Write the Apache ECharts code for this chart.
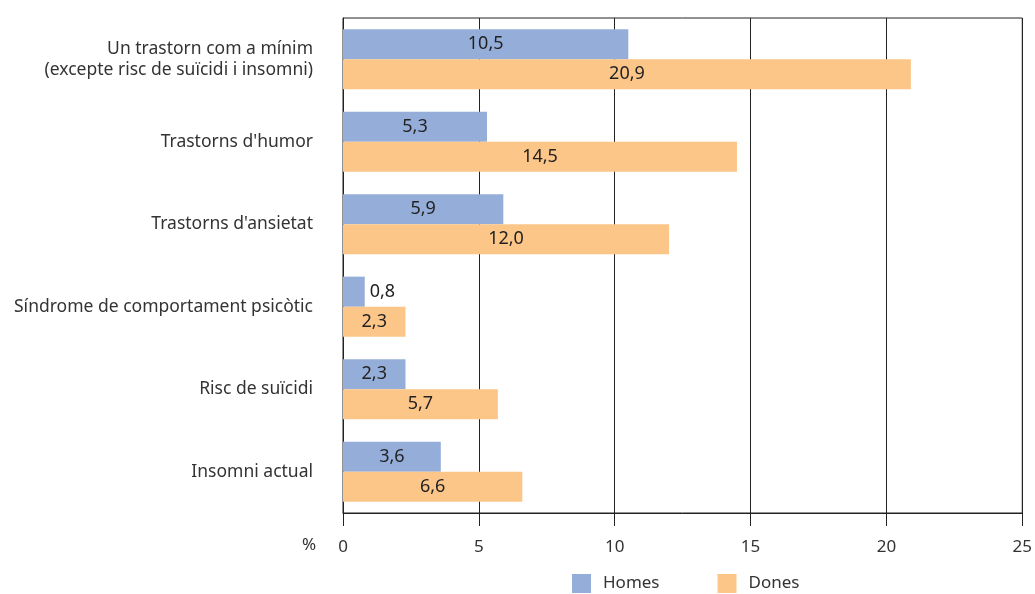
<!DOCTYPE html>
<html><head><meta charset="utf-8">
<script src="https://cdn.jsdelivr.net/npm/echarts@6/dist/echarts.min.js"></script>
<style>html,body{margin:0;padding:0;background:#fff}#c{width:1035px;height:594px}</style>
</head><body><div id="c"></div>
<script>
const categories = ["Un trastorn com a mínim\n(excepte risc de suïcidi i insomni)", "Trastorns d'humor", "Trastorns d'ansietat", "Síndrome de comportament psicòtic", "Risc de suïcidi", "Insomni actual"];
const homes = [10.5, 5.3, 5.9, 0.8, 2.3, 3.6];
const dones = [20.9, 14.5, 12.0, 2.3, 5.7, 6.6];
const seriesNames = ["Homes", "Dones"];
const FONT = "Noto Sans";
const FS = 17;
const chart = echarts.init(document.getElementById('c'));
function fmt(v){ return v.toFixed(1).replace('.', ','); }
function mk(vals){
  return vals.map(v => v < 1.5 ? {value: v, label: {position: 'right', distance: 5}} : v);
}
chart.setOption({
  animation: false,
  textStyle: {fontFamily: FONT},
  grid: {left: 343, right: 12, top: 18, bottom: 81, containLabel: false, show: true, borderColor: '#222', borderWidth: 1},
  legend: {
    top: 574, left: 572, itemWidth: 19, itemHeight: 19, itemGap: 58,
    icon: 'rect', padding: 0,
    textStyle: {fontFamily: FONT, fontSize: FS, color: '#333', padding: [0,0,0,7]},
    data: seriesNames
  },
  xAxis: {
    type: 'value', min: 0, max: 25, interval: 5,
    axisLine: {show: true, lineStyle: {color: '#222'}},
    axisTick: {show: true, length: 13, lineStyle: {color: '#222'}},
    axisLabel: {fontFamily: FONT, fontSize: FS, color: '#333', margin: 26},
    splitLine: {show: true, lineStyle: {color: '#222', width: 1}}
  },
  yAxis: {
    type: 'category', data: categories, inverse: true,
    axisLine: {show: true, lineStyle: {color: '#222'}},
    axisTick: {show: false},
    axisLabel: {fontFamily: FONT, fontSize: 17.5, color: '#333', margin: 30, align: 'right', lineHeight: 21}
  },
  graphic: [{type: 'text', left: 302, top: 537, style: {text: '%', font: FS + 'px "Noto Sans"', fill: '#333'}}],
  series: [
    {name: seriesNames[0], type: 'bar', data: mk(homes), barGap: 0, barCategoryGap: '27%',
     itemStyle: {color: '#95AED9'},
     label: {show: true, position: 'inside', fontFamily: FONT, fontSize: 18, color: '#222', formatter: p => fmt(p.value)}},
    {name: seriesNames[1], type: 'bar', data: mk(dones), barGap: 0, barCategoryGap: '27%',
     itemStyle: {color: '#FDC689'},
     label: {show: true, position: 'inside', fontFamily: FONT, fontSize: 18, color: '#222', formatter: p => fmt(p.value)}}
  ]
});
</script></body></html>
